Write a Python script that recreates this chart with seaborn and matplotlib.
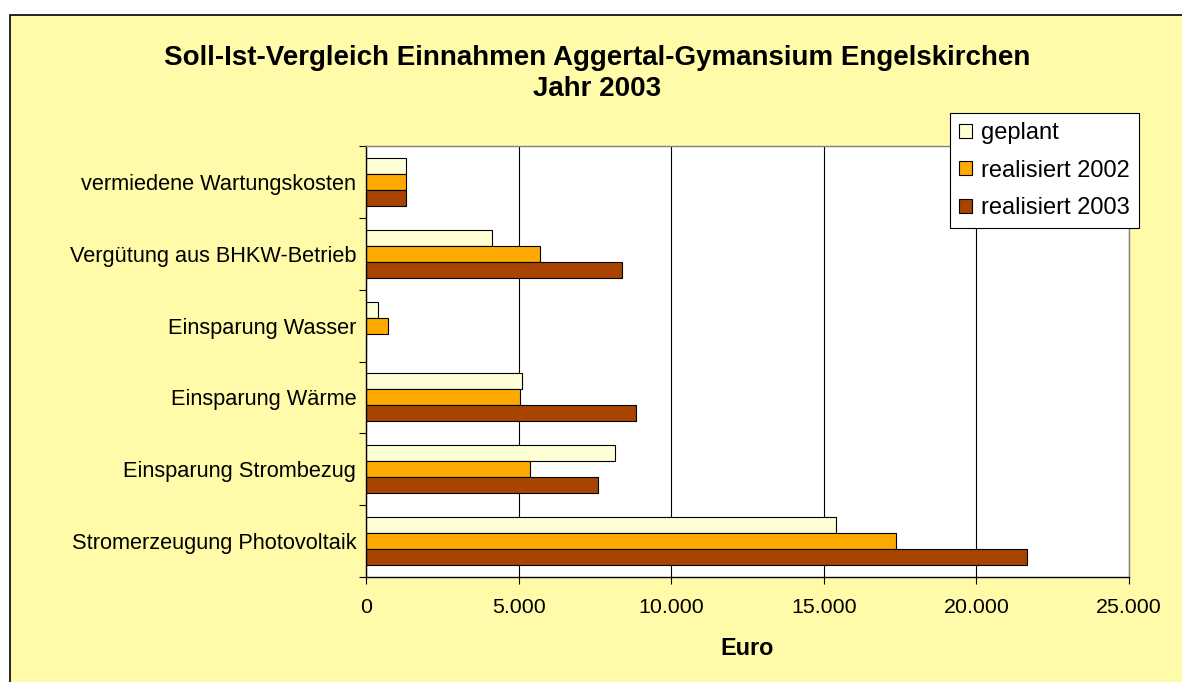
import numpy as np
import pandas as pd
import matplotlib
matplotlib.use("Agg")
import matplotlib.pyplot as plt
import seaborn as sns
from matplotlib.patches import Rectangle, Patch
from matplotlib.ticker import FixedLocator, FuncFormatter

# --- data ---------------------------------------------------------------
categories = [
    "vermiedene Wartungskosten",
    "Vergütung aus BHKW-Betrieb",
    "Einsparung Wasser",
    "Einsparung Wärme",
    "Einsparung Strombezug",
    "Stromerzeugung Photovoltaik",
]
series = ["geplant", "realisiert 2002", "realisiert 2003"]
geplant = [1300, 4130, 380, 5100, 8170, 15390]
real_2002 = [1300, 5690, 710, 5030, 5360, 17350]
real_2003 = [1300, 8380, 0, 8840, 7600, 21670]
x_ticks = [0, 5000, 10000, 15000, 20000, 25000]

colors = ["#FFFFD5", "#FFAA00", "#A84400"]
W, H = 1182, 682

df = pd.DataFrame({
    "Kategorie": categories * len(series),
    "Reihe": np.repeat(series, len(categories)),
    "Euro": geplant + real_2002 + real_2003,
})

sns.set_theme(style="white")
plt.rcParams["font.family"] = ["Liberation Sans", "DejaVu Sans"]
plt.rcParams.update({"text.color": "black", "axes.labelcolor": "black",
                     "xtick.color": "black", "ytick.color": "black"})

fig = plt.figure(figsize=(W / 100, H / 100), dpi=100, facecolor="white")

# yellow chart area with black border (runs off the right/bottom edge)
bg = Rectangle((10 / W, -0.05), 1.1, 1 - 15 / H + 0.05, transform=fig.transFigure,
               facecolor="#FFFBA8", edgecolor="black", linewidth=1.2, zorder=-5)
fig.add_artist(bg)

left, right, top, bottom = 366 / W, 1129 / W, 1 - 146 / H, 1 - 577 / H
ax = fig.add_axes([left, bottom, right - left, top - bottom])
ax.set_facecolor("white")

sns.barplot(data=df, y="Kategorie", x="Euro", hue="Reihe", order=categories,
            hue_order=series, palette=colors, saturation=1, width=0.667, gap=0,
            errorbar=None, edgecolor="black", linewidth=0.8, orient="h",
            legend=False, ax=ax)

ax.set_xlim(0, 25000)
ax.set_ylim(len(categories) - 0.5, -0.5)

ax.xaxis.set_major_locator(FixedLocator(x_ticks))
ax.xaxis.set_major_formatter(FuncFormatter(lambda v, p: f"{int(v):,}".replace(",", ".")))
ax.grid(axis="x", color="black", linewidth=0.8)
ax.grid(axis="y", visible=False)
ax.set_axisbelow(True)

ax.set_yticks(np.arange(-0.5, len(categories)), labels=[])
ax.set_yticks(np.arange(len(categories)), labels=categories, minor=True)
ax.tick_params(axis="y", which="major", left=True, length=5, width=0.8, direction="out")
ax.tick_params(axis="y", which="minor", left=True, length=0, pad=7, labelsize=15.7)
ax.tick_params(axis="x", bottom=True, length=5, width=0.8, direction="out",
               pad=10, labelsize=15.4)

ax.set_ylabel("")
ax.set_xlabel("Euro", fontsize=16.8, fontweight="bold", va="center")
ax.xaxis.set_label_coords(0.5, -0.165)

for side in ["left", "bottom"]:
    ax.spines[side].set_color("black")
    ax.spines[side].set_linewidth(1)
for side in ["top", "right"]:
    ax.spines[side].set_color("#808080")
    ax.spines[side].set_linewidth(1)

handles = [Patch(facecolor=c, edgecolor="black", linewidth=0.8, label=s)
           for c, s in zip(colors, series)]
leg = fig.legend(handles=handles, loc="upper left", bbox_to_anchor=(950 / W, 1 - 113 / H),
                 borderaxespad=0, frameon=True, fancybox=False, edgecolor="black",
                 framealpha=1, fontsize=17, handlelength=0.55, handleheight=0.55,
                 handletextpad=0.4, borderpad=0.38, labelspacing=0.66)
leg.get_frame().set_linewidth(0.8)

fig.text(0.505, 1 - 58 / H, "Soll-Ist-Vergleich Einnahmen Aggertal-Gymansium Engelskirchen",
         ha="center", va="center", fontsize=20, fontweight="bold")
fig.text(0.505, 1 - 89 / H, "Jahr 2003", ha="center", va="center", fontsize=20, fontweight="bold")

fig.savefig("out.png", dpi=100)
